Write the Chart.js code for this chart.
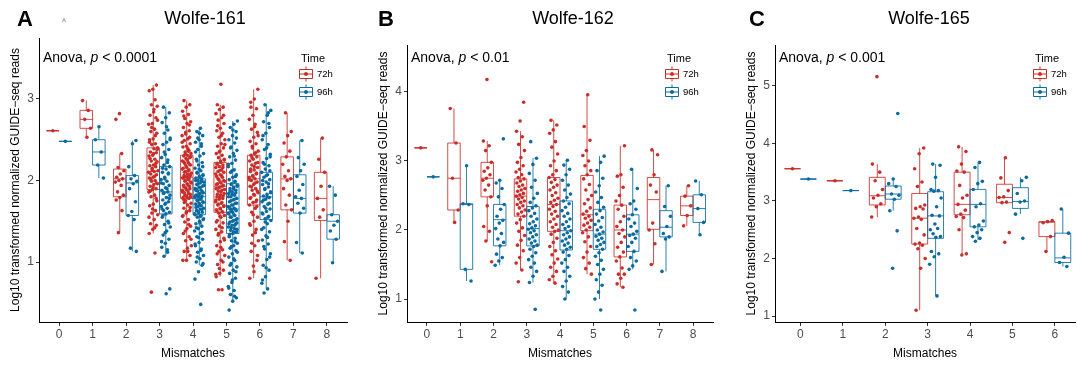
<!DOCTYPE html>
<html>
<head>
<meta charset="utf-8">
<script src="https://cdn.jsdelivr.net/npm/chart.js@4.4.1/dist/chart.umd.min.js"></script>
<style>
  html, body { margin: 0; padding: 0; background: #fff; }
  .wrap { position: relative; width: 1077px; height: 367px; overflow: hidden; }
  canvas { position: absolute; top: 0; }
</style>
</head>
<body>
<div class="wrap">
  <canvas id="chartA" width="359" height="367" style="left:0"></canvas>
  <canvas id="chartB" width="359" height="367" style="left:359px"></canvas>
  <canvas id="chartC" width="359" height="367" style="left:718px"></canvas>
</div>
<script>
const FONT = "'Liberation Sans', Arial, Helvetica, sans-serif";
const RED = "#C92F2A";
const BLUE = "#0B6BA0";
const timeLabels = ["72h", "96h"];
const yTitle = "Log10 transformed normalized GUIDE\u2212seq reads";

// ---- Wolfe-161 ----
const mismatchesA = [0, 1, 2, 3, 4, 5, 6, 7, 8];
const yTicksA = [1, 2, 3];
// box stats per mismatch: [lower whisker, Q1, median, Q3, upper whisker]
const boxA72 = [
  [2.61, 2.61, 2.61, 2.61, 2.61],
  [2.53, 2.64, 2.75, 2.86, 2.98],
  [1.36, 1.80, 2.02, 2.14, 2.33],
  [1.35, 1.89, 2.11, 2.40, 3.17],
  [1.02, 1.78, 2.04, 2.31, 2.98],
  [0.82, 1.61, 1.93, 2.22, 2.93],
  [0.80, 1.70, 2.02, 2.31, 3.12],
  [1.02, 1.64, 2.02, 2.29, 2.83],
  [0.80, 1.51, 1.78, 2.10, 2.52]
];
const boxA96 = [
  [2.48, 2.48, 2.48, 2.48, 2.48],
  [2.03, 2.19, 2.35, 2.50, 2.66],
  [1.13, 1.57, 1.97, 2.06, 2.49],
  [1.07, 1.59, 1.86, 2.17, 2.90],
  [0.96, 1.58, 1.80, 2.02, 2.64],
  [0.52, 1.35, 1.65, 1.96, 2.73],
  [0.67, 1.52, 1.80, 2.10, 2.93],
  [1.11, 1.60, 1.78, 2.07, 2.49],
  [0.99, 1.28, 1.50, 1.58, 1.93]
];
const pointsA72 = [
  [2.61],
  [2.98, 2.86, 2.75, 2.64, 2.53],
  [2.82, 2.75, 2.33, 2.16, 2.12, 2.08, 2.04, 2.02, 2.0, 1.98, 1.94, 1.86, 1.82, 1.79, 1.76, 1.63, 1.36],
  [3.17, 3.12, 3.1, 2.99, 2.93, 2.91, 2.84, 2.8, 2.77, 2.7, 2.69, 2.63, 2.6, 2.58, 2.51, 2.5, 2.45, 2.44, 2.4, 2.39, 2.35, 2.34, 2.31, 2.3, 2.26, 2.24, 2.23, 2.19, 2.18, 2.17, 2.13, 2.12, 2.11, 2.08, 2.07, 2.04, 2.03, 2.0, 1.99, 1.96, 1.95, 1.93, 1.9, 1.89, 1.86, 1.82, 1.8, 1.75, 1.71, 1.69, 1.63, 1.6, 1.58, 1.52, 1.47, 1.45, 1.4, 1.35, 1.11, 0.63,
   2.38, 2.33, 2.27, 2.21, 2.15, 2.1, 2.05, 2.01, 1.97, 1.92, 2.47, 2.55, 2.65, 2.74, 2.87, 1.87, 1.78, 1.65, 1.55, 1.42],
  [2.98, 2.93, 2.9, 2.85, 2.81, 2.76, 2.72, 2.7, 2.65, 2.61, 2.59, 2.55, 2.51, 2.49, 2.45, 2.42, 2.41, 2.37, 2.35, 2.33, 2.31, 2.3, 2.28, 2.27, 2.24, 2.22, 2.21, 2.19, 2.16, 2.15, 2.13, 2.11, 2.09, 2.08, 2.06, 2.05, 2.04, 2.03, 2.01, 1.99, 1.98, 1.96, 1.94, 1.93, 1.91, 1.88, 1.87, 1.85, 1.83, 1.81, 1.79, 1.78, 1.75, 1.72, 1.7, 1.66, 1.63, 1.6, 1.56, 1.52, 1.49, 1.44, 1.41, 1.35, 1.31, 1.26, 1.2, 1.13, 1.13, 1.08, 1.02, 1.02,
   2.36, 2.32, 2.29, 2.25, 2.23, 2.2, 2.18, 2.14, 2.12, 2.1, 2.07, 2.05, 2.03, 2.02, 2.0, 1.97, 1.95, 1.92, 1.9, 1.89, 1.86, 1.84, 1.82, 1.8, 1.79, 1.77, 2.68, 2.57, 2.47, 2.39, 1.73, 1.67, 1.62, 1.57, 1.46, 1.38, 1.28, 1.17, 2.79, 2.53],
  [3.18, 2.93, 2.9, 2.87, 2.82, 2.77, 2.74, 2.7, 2.64, 2.61, 2.58, 2.53, 2.5, 2.45, 2.42, 2.4, 2.36, 2.33, 2.31, 2.28, 2.25, 2.24, 2.21, 2.19, 2.17, 2.16, 2.13, 2.11, 2.1, 2.07, 2.05, 2.04, 2.01, 1.99, 1.97, 1.96, 1.94, 1.92, 1.9, 1.88, 1.87, 1.84, 1.82, 1.8, 1.78, 1.77, 1.74, 1.72, 1.7, 1.68, 1.66, 1.64, 1.62, 1.6, 1.57, 1.55, 1.51, 1.48, 1.44, 1.4, 1.37, 1.33, 1.29, 1.25, 1.2, 1.15, 1.13, 1.08, 1.02, 0.97, 0.9, 0.86, 0.82, 0.66, 0.66,
   2.26, 2.22, 2.2, 2.16, 2.12, 2.08, 2.06, 2.02, 2.0, 1.98, 1.95, 1.93, 1.91, 1.89, 1.86, 1.83, 1.81, 1.79, 1.76, 1.73, 1.71, 1.69, 1.65, 1.63, 1.61, 2.35, 2.44, 2.55, 2.67, 2.8, 1.56, 1.49, 1.42, 1.35, 1.27, 1.18, 1.1, 1.0, 0.92, 0.85],
  [3.12, 3.0, 2.96, 2.88, 2.8, 2.75, 2.69, 2.63, 2.59, 2.53, 2.48, 2.45, 2.4, 2.36, 2.33, 2.31, 2.29, 2.26, 2.24, 2.21, 2.19, 2.16, 2.13, 2.11, 2.08, 2.06, 2.04, 2.02, 2.0, 1.98, 1.95, 1.93, 1.9, 1.88, 1.85, 1.82, 1.79, 1.76, 1.73, 1.7, 1.66, 1.61, 1.55, 1.5, 1.45, 1.4, 1.33, 1.26, 1.2, 1.13, 1.02, 0.95, 0.8,
   2.34, 2.28, 2.22, 2.17, 2.14, 2.09, 2.05, 2.01, 1.97, 1.92, 1.87, 1.83, 1.78, 1.74, 2.42, 2.55, 2.66, 2.9, 1.68, 1.58, 1.47, 1.36, 1.23, 1.08, 0.88],
  [2.83, 2.6, 2.55, 2.46, 2.36, 2.29, 2.2, 2.12, 2.05, 2.02, 2.0, 1.9, 1.82, 1.7, 1.64, 1.5, 1.25, 1.02],
  [2.52, 2.26, 2.1, 1.93, 1.78, 1.64, 1.55, 0.8]
];
const pointsA96 = [
  [2.48],
  [2.66, 2.5, 2.35, 2.19, 2.03],
  [2.49, 2.45, 2.17, 2.06, 2.02, 1.99, 1.96, 1.9, 1.74, 1.62, 1.57, 1.52, 1.17, 1.13],
  [2.9, 2.83, 2.77, 2.71, 2.62, 2.58, 2.52, 2.47, 2.44, 2.38, 2.32, 2.28, 2.22, 2.19, 2.17, 2.14, 2.1, 2.08, 2.04, 2.01, 1.99, 1.96, 1.94, 1.91, 1.88, 1.86, 1.85, 1.82, 1.79, 1.76, 1.74, 1.71, 1.68, 1.66, 1.63, 1.61, 1.59, 1.55, 1.5, 1.46, 1.43, 1.38, 1.33, 1.28, 1.23, 1.18, 1.12, 1.07, 0.67, 0.61,
   2.15, 2.09, 2.02, 1.97, 1.9, 1.84, 1.78, 1.72, 1.65, 2.25, 2.35, 2.5, 2.66, 1.57, 1.48, 1.36, 1.25, 1.15],
  [2.64, 2.6, 2.55, 2.5, 2.47, 2.42, 2.38, 2.33, 2.3, 2.26, 2.22, 2.19, 2.15, 2.12, 2.09, 2.07, 2.05, 2.03, 2.02, 2.0, 1.98, 1.97, 1.95, 1.93, 1.92, 1.9, 1.88, 1.87, 1.85, 1.84, 1.82, 1.81, 1.8, 1.79, 1.77, 1.76, 1.74, 1.72, 1.71, 1.69, 1.68, 1.66, 1.65, 1.63, 1.61, 1.6, 1.58, 1.57, 1.55, 1.52, 1.5, 1.47, 1.44, 1.41, 1.38, 1.35, 1.31, 1.28, 1.24, 1.2, 1.16, 1.12, 1.08, 1.04, 1.0, 0.96, 0.88, 0.79, 0.48,
   2.1, 2.06, 2.04, 2.0, 1.99, 1.96, 1.94, 1.91, 1.89, 1.86, 1.83, 1.81, 1.78, 1.75, 1.73, 1.7, 1.67, 1.64, 1.62, 1.59, 1.56, 2.24, 2.17, 2.14, 2.35, 2.45, 2.52, 1.53, 1.48, 1.42, 1.36, 1.3, 1.22, 1.14, 1.06, 0.98, 2.58, 1.88, 1.8, 1.76],
  [2.73, 2.69, 2.65, 2.6, 2.55, 2.5, 2.46, 2.41, 2.37, 2.33, 2.29, 2.25, 2.21, 2.17, 2.13, 2.1, 2.07, 2.04, 2.01, 1.98, 1.96, 1.94, 1.92, 1.9, 1.88, 1.86, 1.84, 1.82, 1.8, 1.78, 1.76, 1.74, 1.72, 1.7, 1.68, 1.66, 1.65, 1.63, 1.61, 1.59, 1.57, 1.55, 1.53, 1.51, 1.49, 1.47, 1.45, 1.43, 1.41, 1.39, 1.37, 1.35, 1.32, 1.29, 1.26, 1.23, 1.2, 1.17, 1.14, 1.1, 1.06, 1.02, 0.98, 0.94, 0.9, 0.86, 0.8, 0.75, 0.7, 0.65, 0.6, 0.56, 0.52, 0.41,
   1.99, 1.95, 1.93, 1.9, 1.87, 1.85, 1.83, 1.8, 1.77, 1.75, 1.72, 1.7, 1.67, 1.65, 1.63, 1.6, 1.58, 1.55, 1.52, 1.5, 1.47, 1.45, 1.42, 1.4, 1.37, 1.34, 2.05, 2.12, 2.2, 2.3, 2.4, 2.52, 2.62, 1.31, 1.25, 1.19, 1.12, 1.04, 0.96, 0.88, 0.78, 0.68, 0.58, 1.62, 1.48],
  [2.93, 2.86, 2.8, 2.72, 2.65, 2.58, 2.5, 2.44, 2.38, 2.32, 2.27, 2.22, 2.18, 2.14, 2.1, 2.07, 2.04, 2.01, 1.98, 1.95, 1.92, 1.89, 1.86, 1.83, 1.81, 1.79, 1.77, 1.74, 1.71, 1.68, 1.65, 1.62, 1.59, 1.56, 1.53, 1.51, 1.47, 1.42, 1.37, 1.32, 1.27, 1.22, 1.16, 1.1, 1.03, 0.96, 0.9, 0.82, 0.74, 0.67, 0.62,
   2.12, 2.06, 2.0, 1.96, 1.9, 1.85, 1.8, 1.76, 1.72, 1.66, 1.6, 1.55, 2.2, 2.29, 2.4, 2.55, 2.7, 1.49, 1.4, 1.3, 1.19, 1.06, 0.93, 0.78, 2.83],
  [2.49, 2.28, 2.2, 2.12, 2.05, 1.95, 1.88, 1.8, 1.78, 1.72, 1.66, 1.6, 1.24, 1.11],
  [1.93, 1.82, 1.58, 1.5, 1.45, 1.38, 1.28, 0.99]
];

// ---- Wolfe-162 ----
const mismatchesB = [0, 1, 2, 3, 4, 5, 6, 7, 8];
const yTicksB = [1, 2, 3, 4];
const boxB72 = [
  [3.19, 3.19, 3.19, 3.19, 3.19],
  [2.11, 2.29, 2.75, 3.26, 3.76],
  [1.84, 2.48, 2.75, 2.98, 3.29],
  [1.42, 2.20, 2.49, 2.74, 3.43],
  [1.23, 1.98, 2.37, 2.76, 3.59],
  [1.36, 1.99, 2.22, 2.79, 3.96],
  [1.17, 1.61, 2.00, 2.36, 3.22],
  [1.50, 2.01, 2.44, 2.76, 3.16],
  [2.06, 2.21, 2.35, 2.49, 2.64]
];
const boxB96 = [
  [2.77, 2.77, 2.77, 2.77, 2.77],
  [1.26, 1.43, 2.37, 2.38, 2.93],
  [1.49, 1.77, 2.15, 2.37, 2.72],
  [1.24, 1.77, 2.02, 2.34, 3.04],
  [1.00, 1.71, 1.99, 2.42, 3.01],
  [1.00, 1.72, 1.94, 2.30, 3.07],
  [1.43, 1.69, 1.94, 2.22, 2.88],
  [1.40, 1.90, 2.04, 2.28, 2.64],
  [1.93, 2.11, 2.31, 2.51, 2.71]
];
const pointsB72 = [
  [3.19],
  [3.76, 3.26, 2.75, 2.29, 2.11],
  [4.18, 3.29, 3.22, 3.15, 2.98, 2.9, 2.85, 2.8, 2.75, 2.72, 2.65, 2.58, 2.48, 2.35, 2.05, 1.98, 1.84, 1.54],
  [3.85, 3.58, 3.43, 3.35, 3.24, 3.15, 3.05, 2.98, 2.93, 2.88, 2.84, 2.8, 2.76, 2.74, 2.71, 2.68, 2.65, 2.63, 2.6, 2.58, 2.56, 2.53, 2.51, 2.49, 2.47, 2.45, 2.42, 2.4, 2.37, 2.35, 2.32, 2.29, 2.26, 2.23, 2.2, 2.15, 2.1, 2.03, 1.98, 1.92, 1.85, 1.78, 1.7, 1.6, 1.52, 1.42, 1.25],
  [3.59, 3.52, 3.45, 3.4, 3.28, 3.2, 3.1, 3.0, 2.93, 2.86, 2.8, 2.76, 2.73, 2.69, 2.65, 2.62, 2.58, 2.54, 2.5, 2.46, 2.43, 2.4, 2.37, 2.34, 2.3, 2.27, 2.23, 2.2, 2.16, 2.12, 2.08, 2.04, 2.0, 1.98, 1.94, 1.88, 1.82, 1.76, 1.7, 1.64, 1.58, 1.52, 1.46, 1.4, 1.33, 1.28, 1.23],
  [3.96, 3.5, 3.3, 3.15, 3.08, 3.0, 2.93, 2.86, 2.8, 2.74, 2.66, 2.58, 2.5, 2.44, 2.38, 2.32, 2.27, 2.23, 2.2, 2.17, 2.14, 2.1, 2.07, 2.04, 2.0, 1.96, 1.9, 1.83, 1.76, 1.68, 1.6, 1.52, 1.44, 1.36],
  [3.22, 2.8, 2.78, 2.62, 2.5, 2.42, 2.36, 2.3, 2.2, 2.12, 2.05, 2.0, 1.95, 1.9, 1.82, 1.75, 1.68, 1.61, 1.55, 1.45, 1.36, 1.36, 1.3, 1.22, 1.17],
  [3.16, 3.09, 2.8, 2.65, 2.55, 2.1, 2.0, 1.8, 1.5],
  [2.64, 2.49, 2.35, 2.21, 2.06]
];
const pointsB96 = [
  [2.77],
  [2.93, 2.38, 2.37, 1.43, 1.26],
  [3.32, 2.72, 2.68, 2.6, 2.48, 2.37, 2.3, 2.2, 2.14, 2.1, 2.02, 1.95, 1.87, 1.82, 1.77, 1.65, 1.6, 1.55, 1.49],
  [3.28, 3.04, 2.95, 2.82, 2.72, 2.62, 2.53, 2.46, 2.4, 2.35, 2.32, 2.28, 2.24, 2.2, 2.16, 2.12, 2.09, 2.06, 2.03, 2.01, 1.99, 1.96, 1.93, 1.9, 1.87, 1.84, 1.81, 1.78, 1.76, 1.72, 1.67, 1.62, 1.57, 1.52, 1.46, 1.4, 1.33, 1.24, 0.85],
  [3.01, 2.94, 2.88, 2.8, 2.72, 2.65, 2.58, 2.52, 2.47, 2.42, 2.38, 2.33, 2.28, 2.24, 2.2, 2.16, 2.12, 2.08, 2.05, 2.02, 1.99, 1.96, 1.93, 1.9, 1.87, 1.84, 1.81, 1.78, 1.75, 1.72, 1.68, 1.63, 1.57, 1.52, 1.46, 1.4, 1.33, 1.26, 1.18, 1.1, 1.0],
  [3.07, 2.98, 2.86, 2.75, 2.64, 2.55, 2.47, 2.4, 2.33, 2.28, 2.23, 2.18, 2.13, 2.08, 2.04, 2.0, 1.97, 1.94, 1.91, 1.88, 1.85, 1.82, 1.79, 1.76, 1.72, 1.67, 1.62, 1.56, 1.5, 1.43, 1.36, 1.28, 1.2, 1.1, 1.0, 0.84],
  [2.88, 2.6, 2.42, 2.38, 2.3, 2.22, 2.16, 2.1, 2.05, 1.98, 1.94, 1.92, 1.88, 1.82, 1.76, 1.69, 1.6, 1.55, 1.48, 1.43, 0.84],
  [2.64, 2.34, 2.2, 2.05, 1.95, 1.9, 1.87, 1.4],
  [2.71, 2.51, 2.31, 2.11, 1.93]
];

// ---- Wolfe-165 ----
const mismatchesC = [0, 1, 2, 3, 4, 5, 6];
const yTicksC = [1, 2, 3, 4, 5];
const boxC72 = [
  [3.56, 3.56, 3.56, 3.56, 3.56],
  [3.35, 3.35, 3.35, 3.35, 3.35],
  [2.72, 2.93, 3.09, 3.41, 3.64],
  [1.10, 2.25, 2.70, 3.13, 3.92],
  [2.06, 2.76, 2.94, 3.50, 3.94],
  [2.97, 2.97, 3.06, 3.29, 3.75],
  [2.12, 2.38, 2.63, 2.64, 2.66]
];
const boxC96 = [
  [3.38, 3.38, 3.38, 3.38, 3.38],
  [3.18, 3.18, 3.18, 3.18, 3.18],
  [2.83, 3.03, 3.12, 3.26, 3.38],
  [1.35, 2.35, 2.74, 3.16, 3.64],
  [2.32, 2.55, 2.94, 3.20, 3.67],
  [2.77, 2.87, 2.99, 3.23, 3.41],
  [1.86, 1.93, 2.01, 2.44, 2.86]
];
const pointsC72 = [
  [3.56],
  [3.35],
  [5.16, 3.64, 3.5, 3.35, 3.2, 3.1, 3.05, 2.95, 2.9, 2.72],
  [3.92, 3.82, 3.56, 3.33, 3.25, 2.93, 2.9, 2.87, 2.86, 2.72, 2.7, 2.68, 2.52, 2.41, 2.27, 2.25, 2.23, 2.17, 2.0, 1.83, 1.1],
  [3.94, 3.86, 3.64, 3.52, 3.5, 3.27, 3.1, 3.05, 2.94, 2.84, 2.77, 2.73, 2.71, 2.5, 2.08, 2.06],
  [3.75, 3.4, 3.18, 3.07, 3.06, 2.98, 2.97, 2.45, 2.28],
  [2.66, 2.64, 2.62, 2.38, 2.12]
];
const pointsC96 = [
  [3.38],
  [3.18],
  [4.52, 3.38, 3.3, 3.25, 3.12, 3.1, 3.03, 2.83, 2.48, 1.83],
  [3.64, 3.62, 3.41, 3.2, 3.18, 3.17, 3.05, 2.9, 2.75, 2.74, 2.6, 2.5, 2.52, 2.43, 2.38, 2.37, 2.12, 2.08, 2.03, 1.9, 1.35],
  [3.67, 3.58, 3.34, 3.3, 3.2, 2.95, 2.9, 2.65, 2.58, 2.55, 2.5, 2.45, 2.38, 2.35, 2.3],
  [3.41, 3.35, 3.13, 3.0, 2.98, 2.77, 2.35],
  [2.86, 2.44, 2.02, 1.93, 1.86]
];

const panelTitles = ["Wolfe-161", "Wolfe-162", "Wolfe-165"];
const panelLetters = ["A", "B", "C"];
const anovaP = ["0.0001", "0.01", "0.001"];

const BOX_W = 0.375;   // each dodged box, in category units
const DODGE = 0.1875;
const JIT_W = 0.28;

function jitter(k, seed) {
  return ((((k + 1) * 0.618034 + seed) % 1) - 0.5) * JIT_W;
}

function makeBoxPlugin(cats, groups) {
  return {
    id: "boxes",
    beforeDatasetsDraw(chart) {
      const { ctx, scales: { x, y } } = chart;
      const half = Math.abs(x.getPixelForValue(BOX_W / 2) - x.getPixelForValue(0));
      groups.forEach(g => {
        g.stats.forEach((s, i) => {
          const cx = x.getPixelForValue(cats[i] + g.offset);
          const [lo, q1, med, q3, hi] = s.map(v => y.getPixelForValue(v));
          ctx.save();
          ctx.strokeStyle = g.line;
          ctx.lineWidth = 1;
          ctx.beginPath();
          ctx.moveTo(cx, q3); ctx.lineTo(cx, hi);
          ctx.moveTo(cx, q1); ctx.lineTo(cx, lo);
          ctx.rect(cx - half, q3, 2 * half, q1 - q3);
          ctx.moveTo(cx - half, med); ctx.lineTo(cx + half, med);
          ctx.stroke();
          ctx.restore();
        });
      });
    }
  };
}

function makeTextPlugin(idx, L) {
  return {
    id: "texts",
    afterDraw(chart) {
      const ctx = chart.ctx;
      ctx.save();
      ctx.fillStyle = "#000";
      ctx.textAlign = "left";
      ctx.textBaseline = "alphabetic";
      ctx.font = `bold 22px ${FONT}`;
      ctx.fillText(panelLetters[idx], L.letterX, 26);
      if (idx === 0) {
        ctx.fillStyle = "#777";
        ctx.font = `6px ${FONT}`;
        ctx.fillText("A", 62, 22);
        ctx.fillStyle = "#000";
      }
      ctx.textAlign = "center";
      ctx.textBaseline = "middle";
      ctx.font = `18px ${FONT}`;
      ctx.fillText(panelTitles[idx], L.titleX, 19);

      // Anova, p < ...
      ctx.textAlign = "left";
      let ax = L.anovaX;
      ctx.font = `14px ${FONT}`;
      ctx.fillText("Anova, ", ax, 58);
      ax += ctx.measureText("Anova, ").width;
      ctx.font = `italic 14px ${FONT}`;
      ctx.fillText("p", ax, 58);
      ax += ctx.measureText("p").width;
      ctx.font = `14px ${FONT}`;
      ctx.fillText(" < " + anovaP[idx], ax, 58);

      // legend
      ctx.font = `11px ${FONT}`;
      ctx.fillText("Time", L.legX, 59);
      [RED, BLUE].forEach((c, k) => {
        const ky = 74 + k * 18;
        const kx = L.legX + 5;
        ctx.strokeStyle = c;
        ctx.lineWidth = 1;
        ctx.beginPath();
        ctx.rect(kx - 6.5, ky - 4.5, 13, 9);
        ctx.moveTo(kx, ky - 7.5); ctx.lineTo(kx, ky - 4.5);
        ctx.moveTo(kx, ky + 4.5); ctx.lineTo(kx, ky + 7.5);
        ctx.moveTo(kx - 6.5, ky); ctx.lineTo(kx + 6.5, ky);
        ctx.stroke();
        ctx.fillStyle = c;
        ctx.beginPath();
        ctx.arc(kx, ky, 2, 0, Math.PI * 2);
        ctx.fill();
        ctx.fillStyle = "#000";
        ctx.font = `9.5px ${FONT}`;
        ctx.fillText(timeLabels[k], L.legX + 16, ky + 0.5);
      });
      ctx.restore();
    }
  };
}

function makePanel(id, idx, cats, yTicks, box72, box96, pts72, pts96, L) {
  const groups = [
    { name: timeLabels[0], offset: -DODGE, stats: box72, points: pts72, color: RED, line: "rgba(201,47,42,0.85)", seed: 0.11 },
    { name: timeLabels[1], offset: DODGE, stats: box96, points: pts96, color: BLUE, line: "rgba(11,107,160,0.85)", seed: 0.53 }
  ];
  const datasets = groups.map(g => ({
    type: "scatter",
    label: g.name,
    data: g.points.flatMap((vals, i) => vals.map((v, k) => ({
      x: cats[i] + g.offset + (vals.length > 1 ? jitter(k, i * 0.37 + g.seed) : 0),
      y: v
    }))),
    backgroundColor: g.color,
    borderWidth: 0,
    pointRadius: 1.8,
    pointHoverRadius: 1.8
  }));
  const tickFont = { family: FONT, size: 12 };
  return new Chart(document.getElementById(id), {
    type: "scatter",
    data: { datasets },
    options: {
      responsive: false,
      animation: false,
      devicePixelRatio: 1,
      layout: { padding: L.pad },
      plugins: {
        legend: { display: false },
        tooltip: { enabled: false },
        title: { display: false }
      },
      scales: {
        x: {
          type: "linear",
          min: L.xMin,
          max: L.xMax,
          afterBuildTicks: s => { s.ticks = cats.map(v => ({ value: v })); },
          afterFit: s => { s.height = 45; },
          ticks: { font: tickFont, color: "#4D4D4D", padding: 1, maxRotation: 0, autoSkip: false },
          grid: { drawOnChartArea: false, drawTicks: true, tickLength: 4, color: "#333" },
          border: { display: true, color: "#000", width: 1 },
          title: { display: true, text: "Mismatches", color: "#000", font: { family: FONT, size: 12 }, padding: { top: 0, bottom: 6 } }
        },
        y: {
          type: "linear",
          min: L.yMin,
          max: L.yMax,
          afterBuildTicks: s => { s.ticks = yTicks.map(v => ({ value: v })); },
          afterFit: s => { s.width = 39; },
          ticks: { font: tickFont, color: "#4D4D4D", padding: 2 },
          grid: { drawOnChartArea: false, drawTicks: true, tickLength: 3, color: "#333" },
          border: { display: true, color: "#000", width: 1 },
          title: { display: true, text: yTitle, color: "#000", font: { family: FONT, size: 12 }, padding: { top: 8, bottom: 0 } }
        }
      }
    },
    plugins: [makeBoxPlugin(cats, groups), makeTextPlugin(idx, L)]
  });
}

makePanel("chartA", 0, mismatchesA, yTicksA, boxA72, boxA96, pointsA72, pointsA96, {
  pad: { left: 0, right: 12, top: 38, bottom: 0 },
  xMin: -0.6, xMax: 8.6, yMin: 0.264, yMax: 3.748,
  letterX: 17, titleX: 205, anovaX: 43, legX: 301
});
makePanel("chartB", 1, mismatchesB, yTicksB, boxB72, boxB96, pointsB72, pointsB96, {
  pad: { left: 9, right: 5, top: 45, bottom: 0 },
  xMin: -0.6, xMax: 8.6, yMin: 0.667, yMax: 4.68,
  letterX: 19, titleX: 214, anovaX: 52, legX: 308
});
makePanel("chartC", 2, mismatchesC, yTicksC, boxC72, boxC96, pointsC72, pointsC96, {
  pad: { left: 18, right: 0, top: 45, bottom: 0 },
  xMin: -0.6, xMax: 6.48, yMin: 0.896, yMax: 5.71,
  letterX: 31, titleX: 211, anovaX: 61, legX: 317
});
</script>
</body>
</html>
